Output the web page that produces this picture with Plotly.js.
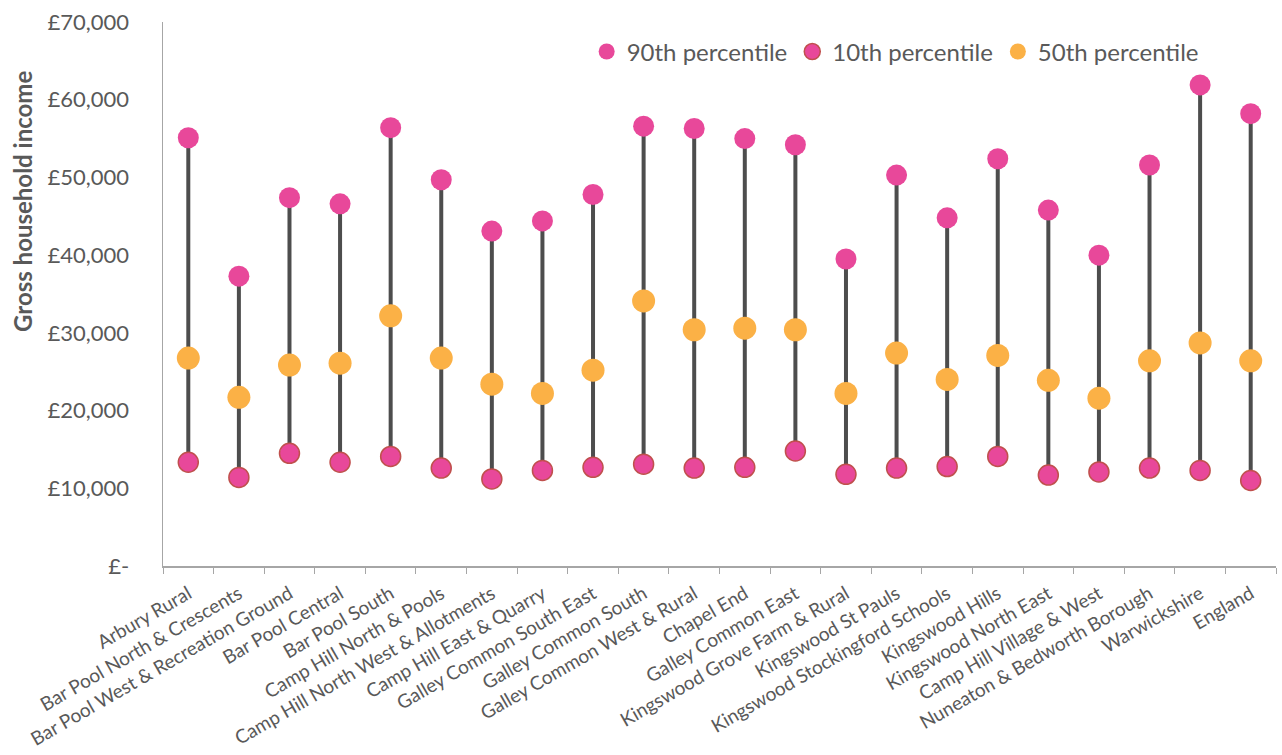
<!DOCTYPE html>
<html>
<head>
<meta charset="utf-8">
<script src="https://cdn.plot.ly/plotly-3.0.1.min.js"></script>
<style>html,body{margin:0;padding:0;background:#fff;}#chart{width:1282px;height:755px;}</style>
</head>
<body>
<div id="chart"></div>
<script>
const categories = [
  "Arbury Rural", "Bar Pool North & Crescents", "Bar Pool West & Recreation Ground",
  "Bar Pool Central", "Bar Pool South", "Camp Hill North & Pools",
  "Camp Hill North West & Allotments", "Camp Hill East & Quarry", "Galley Common South East",
  "Galley Common South", "Galley Common West & Rural", "Chapel End", "Galley Common East",
  "Kingswood Grove Farm & Rural", "Kingswood St Pauls", "Kingswood Stockingford Schools",
  "Kingswood Hills", "Kingswood North East", "Camp Hill Village & West",
  "Nuneaton & Bedworth Borough", "Warwickshire", "England"
];
const p90 = [55100, 37300, 47400, 46600, 56400, 49700, 43100, 44400, 47800, 56600, 56300,
             55000, 54200, 39500, 50300, 44800, 52400, 45800, 40000, 51600, 61900, 58200];
const p50 = [26750, 21700, 25850, 26100, 32200, 26750, 23400, 22200, 25200, 34100, 30400,
             30600, 30400, 22200, 27400, 24000, 27100, 23900, 21600, 26400, 28700, 26400];
const p10 = [13350, 11400, 14500, 13350, 14100, 12600, 11200, 12300, 12700, 13100, 12600,
             12700, 14800, 11800, 12600, 12800, 14100, 11700, 12100, 12600, 12300, 11000];
const yTickVals = [0, 10000, 20000, 30000, 40000, 50000, 60000, 70000];
const yTickText = ["£-", "£10,000", "£20,000", "£30,000", "£40,000", "£50,000", "£60,000", "£70,000"];

const segX = [], segY = [];
categories.forEach((c, i) => { segX.push(c, c, null); segY.push(p10[i], p90[i], null); });

const FONT = "Lato, 'Open Sans', sans-serif";
const TXT = "#595959";

const traces = [
  {x: segX, y: segY, type: "scatter", mode: "lines", line: {color: "#4D4D4D", width: 4},
   showlegend: false, hoverinfo: "skip"},
  {x: categories, y: p90, type: "scatter", mode: "markers", name: "90th percentile",
   marker: {color: "#E8489A", size: 21, line: {width: 0}}},
  {x: categories, y: p10, type: "scatter", mode: "markers", name: "10th percentile",
   marker: {color: "#E8489A", size: 20, line: {width: 1.5, color: "#C0504D"}}},
  {x: categories, y: p50, type: "scatter", mode: "markers", name: "50th percentile",
   marker: {color: "#FBB146", size: 23, line: {width: 0}}}
];

const layout = {
  width: 1282, height: 755,
  margin: {l: 163, r: 6, t: 22, b: 189},
  paper_bgcolor: "#fff", plot_bgcolor: "#fff",
  font: {family: FONT, color: TXT},
  showlegend: true,
  legend: {orientation: "h", x: 0.935, xanchor: "right", y: 0.945, yanchor: "middle",
           font: {size: 24, color: TXT, family: FONT}, bgcolor: "rgba(0,0,0,0)",
           itemwidth: 30, traceorder: "normal"},
  xaxis: {
    type: "category", showgrid: false, zeroline: false,
    showline: true, linecolor: "#A6A6A6", linewidth: 1.5,
    ticks: "outside", tickson: "boundaries", ticklen: 6, tickcolor: "#A6A6A6", tickwidth: 1,
    tickangle: -30, tickfont: {size: 19, color: TXT, family: FONT}, ticklabelstandoff: 8,
    range: [-0.5, categories.length - 0.5]
  },
  yaxis: {
    range: [0, 70000], tickvals: yTickVals, ticktext: yTickText,
    showgrid: false, zeroline: false, showline: true, linecolor: "#A6A6A6", linewidth: 1.5,
    ticks: "", tickfont: {size: 22, color: TXT, family: FONT}, ticklabelstandoff: 28
  },
  annotations: [{
    text: "<b>Gross household income</b>", textangle: -90, xref: "paper", yref: "paper",
    x: -0.1258, y: 0.671, xanchor: "center", yanchor: "middle", showarrow: false,
    font: {size: 24, color: TXT, family: FONT}
  }]
};

Plotly.newPlot("chart", traces, layout, {displayModeBar: false, staticPlot: true});
</script>
</body>
</html>
